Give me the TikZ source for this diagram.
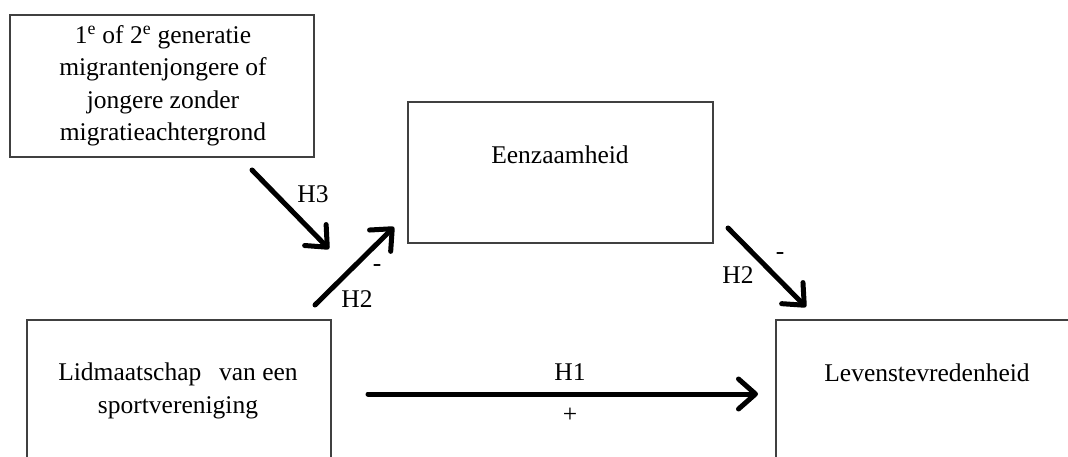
\documentclass[tikz,border=0pt]{standalone}
\usepackage{fontspec}
\setmainfont{Liberation Serif}
\usetikzlibrary{arrows.meta}
\begin{document}
\begin{tikzpicture}[x=1pt,y=-1pt,
  box/.style={draw=black!75,line width=1.6pt,fill=none},
  txt/.style={font=\fontsize{25.5}{32.5}\selectfont,align=center,inner sep=0pt},
  lbl/.style={font=\fontsize{25.5}{32}\selectfont,inner sep=0pt},
  effect/.style={line width=5pt,line cap=round,
    -{Straight Barb[length=17pt,width=30pt,line width=5pt,round]}}]
\useasboundingbox (0,0) rectangle (1068,457);
\clip (0,0) rectangle (1068,457);
% boxes
\draw[box] (10,15) rectangle (314,157);
\draw[box] (408,102) rectangle (713,243);
\draw[box] (27,320) rectangle (331,490);
\draw[box] (776,320) rectangle (1100,490);
% box texts
\node[txt] (migr) at (163,86) {1\textsuperscript{e} of 2\textsuperscript{e} generatie\\migrantenjongere of\\jongere zonder\\migratieachtergrond};
\node[txt] (eenz) at (560,155) {Eenzaamheid};
\node[txt] (lid) at (178,391) {Lidmaatschap\hspace{0.45em} van een\\sportvereniging};
\node[txt] (leven) at (927,373) {Levenstevredenheid};
% connector end points
\coordinate (h3s) at (252,170);
\coordinate (h3e) at (329,249);
\coordinate (h2as) at (315,305);
\coordinate (h2ae) at (394,227);
\coordinate (h2bs) at (728,228);
\coordinate (h2be) at (806,307);
\coordinate (h1s) at (368,394);
\coordinate (h1e) at (758,394);
% connectors
\draw[effect] (h3s) -- (h3e);
\draw[effect] (h2as) -- (h2ae);
\draw[effect] (h2bs) -- (h2be);
\draw[effect] (h1s) -- (h1e);
% labels
\node[lbl] (lh3) at (313,194) {H3};
\node[lbl] (lh2a) at (357,299) {H2};
\node[lbl] (ma) at (377,268) {-};
\node[lbl] (lh2b) at (738,275) {H2};
\node[lbl] (mb) at (780,256) {-};
\node[lbl] (lh1) at (570,372) {H1};
\node[lbl] (pl) at (570,415) {+};
\end{tikzpicture}
\end{document}
